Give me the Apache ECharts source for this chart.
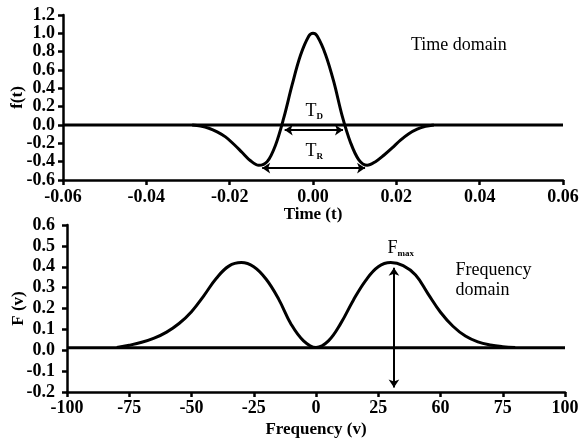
<!DOCTYPE html>
<html>
<head>
<meta charset="utf-8">
<script src="https://cdn.jsdelivr.net/npm/echarts@6/dist/echarts.min.js"></script>
<style>
html, body { margin: 0; padding: 0; background: #fff; }
#chart { width: 581px; height: 444px; }
</style>
</head>
<body>
<div id="chart"></div>
<script>
// time domain pulse f(t)
var timeT = [-0.029, -0.027, -0.025, -0.023, -0.021, -0.019, -0.017, -0.015, -0.013, -0.011, -0.009, -0.007, -0.005, -0.003, -0.001, 0,
             0.001, 0.003, 0.005, 0.007, 0.009, 0.011, 0.013, 0.015, 0.017, 0.019, 0.021, 0.023, 0.025, 0.027, 0.029];
var timeF = [0, -0.012, -0.035, -0.075, -0.13, -0.21, -0.30, -0.39, -0.44, -0.40, -0.22, 0.08, 0.44, 0.76, 0.97, 1.0,
             0.97, 0.77, 0.47, 0.10, -0.19, -0.38, -0.44, -0.40, -0.33, -0.25, -0.165, -0.095, -0.045, -0.015, 0];
var timeBaseT = [-0.06, 0.06];
var timeBaseF = [0, 0];

// frequency domain F(v)
var freqV = [-80, -75, -70, -65, -60, -55, -50, -45, -40, -35, -30, -25, -20, -15, -10, -5, 0,
             5, 10, 15, 20, 25, 30, 35, 40, 45, 50, 55, 60, 65, 70, 75, 80];
var freqF = [0.013, 0.024, 0.038, 0.058, 0.087, 0.128, 0.185, 0.262, 0.345, 0.403, 0.42, 0.40, 0.34, 0.245, 0.125, 0.045, 0.013,
             0.045, 0.13, 0.24, 0.335, 0.40, 0.42, 0.405, 0.36, 0.27, 0.182, 0.115, 0.068, 0.04, 0.025, 0.017, 0.013];
var freqBaseV = [-100, 100];
var freqBaseF = [0.012, 0.012];

// tick labels of the frequency axis, as printed
var freqTickLabels = ['-100', '-75', '-50', '-25', '0', '25', '60', '75', '100'];

function pairs(xs, ys) {
    return xs.map(function (x, i) { return [x, ys[i]]; });
}

var font = 'Liberation Serif';
var tickFont = { fontFamily: font, fontWeight: 'bold', fontSize: 18, color: '#000' };
var axisLine = { show: true, onZero: false, lineStyle: { color: '#000', width: 2.5 } };
var axisTick = { show: true, length: 5, lineStyle: { color: '#000', width: 2.5 } };
var nameStyle = { fontFamily: font, fontWeight: 'bold', fontSize: 17, color: '#000' };
var noteRich = {
    a: { fontFamily: font, fontSize: 18, color: '#000', lineHeight: 20 },
    s: { fontFamily: font, fontSize: 9, color: '#000', lineHeight: 9, verticalAlign: 'bottom', fontWeight: 'bold' }
};
var hidden = { color: 'rgba(0,0,0,0)' };

var arrowLine = {
    silent: true,
    symbol: ['arrow', 'arrow'],
    symbolSize: 8,
    label: { show: false },
    lineStyle: { color: '#000', width: 2, type: 'solid' },
    emphasis: { disabled: true }
};

var option = {
    animation: false,
    backgroundColor: '#fff',
    grid: [
        { left: 63, right: 18, top: 15, height: 165, outerBoundsMode: 'none' },
        { left: 67, right: 16, top: 225, height: 167, outerBoundsMode: 'none' }
    ],
    xAxis: [
        {
            gridIndex: 0, type: 'value', min: -0.06, max: 0.06, interval: 0.02,
            name: 'Time (t)', nameLocation: 'middle', nameGap: 26, nameMoveOverlap: false, nameTextStyle: nameStyle,
            axisLine: axisLine, axisTick: axisTick, splitLine: { show: false },
            axisLabel: Object.assign({ margin: 8, formatter: function (v) { return v.toFixed(2); } }, tickFont)
        },
        {
            gridIndex: 1, type: 'value', min: -100, max: 100, interval: 25,
            name: 'Frequency (v)', nameLocation: 'middle', nameGap: 29, nameMoveOverlap: false, nameTextStyle: nameStyle,
            axisLine: axisLine, axisTick: axisTick, splitLine: { show: false },
            axisLabel: Object.assign({ margin: 7, formatter: function (v) {
                return freqTickLabels[Math.round((v + 100) / 25)];
            } }, tickFont)
        }
    ],
    yAxis: [
        {
            gridIndex: 0, type: 'value', min: -0.6, max: 1.2, interval: 0.2,
            name: 'f(t)', nameLocation: 'middle', nameGap: 37, nameMoveOverlap: false, nameTextStyle: nameStyle,
            axisLine: axisLine, axisTick: axisTick, splitLine: { show: false },
            axisLabel: Object.assign({ margin: 8, formatter: function (v) { return v.toFixed(1); } }, tickFont)
        },
        {
            gridIndex: 1, type: 'value', min: -0.2, max: 0.6, interval: 0.1,
            name: 'F (v)', nameLocation: 'middle', nameGap: 40, nameMoveOverlap: false, nameTextStyle: nameStyle,
            axisLine: axisLine, axisTick: axisTick, splitLine: { show: false },
            axisLabel: Object.assign({ margin: 12, formatter: function (v) { return v.toFixed(1); } }, tickFont)
        }
    ],
    series: [
        {
            type: 'line', xAxisIndex: 0, yAxisIndex: 0, showSymbol: false, silent: true,
            data: pairs(timeBaseT, timeBaseF),
            lineStyle: { color: '#000', width: 3 }
        },
        {
            type: 'line', xAxisIndex: 0, yAxisIndex: 0, showSymbol: false, silent: true, smooth: 0.35,
            data: pairs(timeT, timeF),
            lineStyle: { color: '#000', width: 3 },
            markLine: Object.assign({
                data: [
                    [{ coord: [-0.0068, -0.055] }, { coord: [0.0072, -0.055] }],
                    [{ coord: [-0.0122, -0.47] }, { coord: [0.0125, -0.47] }]
                ]
            }, arrowLine),
            markPoint: {
                silent: true, symbol: 'circle', symbolSize: 1, itemStyle: hidden,
                label: { show: true, position: 'inside', rich: noteRich },
                data: [
                    { coord: [0.0003, 0.15], label: { formatter: '{a|T}{s|D}' } },
                    { coord: [0.0003, -0.29], label: { formatter: '{a|T}{s|R}' } },
                    { coord: [0.035, 0.87], label: { formatter: '{a|Time domain}' } }
                ]
            }
        },
        {
            type: 'line', xAxisIndex: 1, yAxisIndex: 1, showSymbol: false, silent: true,
            data: pairs(freqBaseV, freqBaseF),
            lineStyle: { color: '#000', width: 3 }
        },
        {
            type: 'line', xAxisIndex: 1, yAxisIndex: 1, showSymbol: false, silent: true, smooth: 0.4,
            data: pairs(freqV, freqF),
            lineStyle: { color: '#000', width: 3 },
            markLine: Object.assign({
                data: [
                    [{ coord: [31.3, 0.395] }, { coord: [31.3, -0.178] }]
                ]
            }, arrowLine),
            markPoint: {
                silent: true, symbol: 'circle', symbolSize: 1, itemStyle: hidden,
                label: { show: true, rich: noteRich },
                data: [
                    { coord: [34, 0.49], label: { position: 'inside', formatter: '{a|F}{s|max}' } },
                    { coord: [55.8, 0.334], label: { position: 'right', distance: 0, align: 'left',
                        formatter: '{a|Frequency}\n{a|domain}' } }
                ]
            }
        }
    ]
};

var chart = echarts.init(document.getElementById('chart'));
chart.setOption(option);
</script>
</body>
</html>
